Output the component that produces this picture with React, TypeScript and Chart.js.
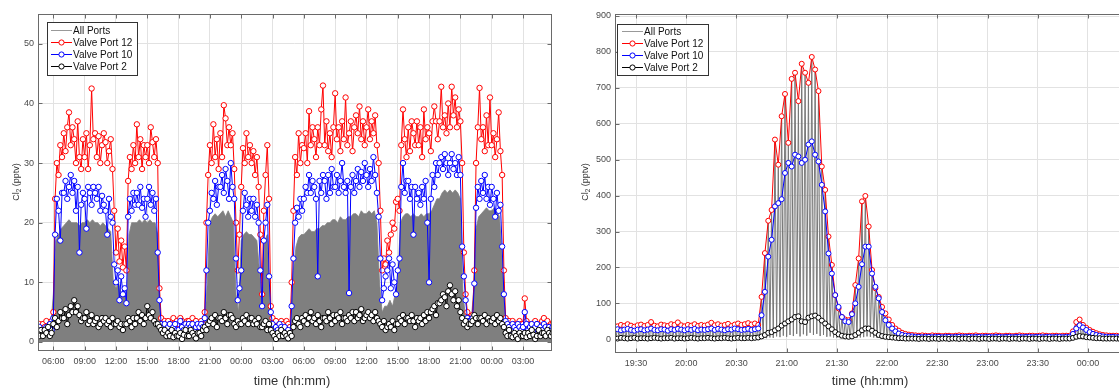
import React, { useEffect, useRef } from "react";
import { Chart, registerables } from "chart.js";

Chart.register(...registerables);

// ---------------- LEFT PANEL (10-min samples, hours since 00:00 of day 1) ----------------
const LEFT_T_START = 4.5;
const LEFT_T_STEP = 1 / 6;

const leftPort12 = [
  2.5, 3, 2, // 04:30-04:50
  3, 2.5, 3.5, 2.5, 3, 3.5, // 05
  5, 24, 30, 28, 33, 31, // 06
  35, 32, 36, 38.5, 33, 36, // 07
  34, 30, 37, 31, 29, 34, // 08
  31, 35, 29, 33, 42.5, 34, // 09
  35, 31, 34.5, 30, 33, 35, // 10
  33.5, 30, 32, 34, 29, 22, // 11
  15, 19, 13.5, 17, 12.5, 16, // 12
  12, 27, 31, 29, 33, 30, // 13
  36.5, 31, 34, 29, 33, 31, // 14
  33, 30, 36, 33.5, 31, 34, // 15
  30, 9, 4, 3, 3.5, 2.5, // 16
  3.5, 3, 2.5, 4, 3, 3.5, // 17
  3, 4, 3.5, 3, 2.5, 3.5, // 18
  3.5, 3, 4, 3, 3.5, 2.5, // 19
  3, 3.5, 3, 5, 20, 28, // 20
  33, 30, 36.5, 31, 34, 29, // 21
  35, 31, 39.7, 37.5, 33, 36, // 22
  33, 35, 29, 20, 12, 18, // 23
  26, 32.5, 30, 35, 31, 33, // 00
  30, 32, 28, 31, 26, 18, // 01
  8, 22, 28, 33, 24, 6, // 02
  4, 3, 3.5, 2.5, 3, 3.5, // 03
  3, 2.5, 3.5, 3, 2.5, 10, // 04
  22, 31, 28, 35, 30, 33, // 05
  32.5, 35, 30, 38.7, 33, 36, // 06
  34, 31, 36, 33, 39, 43, // 07
  33, 37, 32, 35, 31, 36, // 08
  41.7, 34, 36, 32, 37, 34, // 09
  41, 33, 35, 37, 32, 36, // 10
  38, 35, 39.5, 34, 37, 33, // 11
  36, 39, 34, 37, 35, 38, // 12
  33, 30, 22, 12, 14, 13, // 13
  17, 15, 18, 20, 19, 23.5, // 14
  24, 22, 33, 39, 34, 31, // 15
  36, 32, 37, 35, 33, 37, // 16
  33, 36, 31, 39, 34, 36, // 17
  35, 32, 37, 39.5, 37, 34, // 18
  37, 42.8, 36, 38, 35, 40, // 19
  36, 42.8, 38, 41, 36, 39, // 20
  37, 30, 15, 8, 5, 4, // 21
  4, 4.5, 12, 30, 36, 42.6, // 22
  34, 36, 32, 38, 33, 41, // 23
  33, 35, 31, 34, 38.5, 32, // 00
  28, 12, 4, 3, 3.5, 2.5, // 01
  3.5, 3, 2.5, 3, 3.5, 3, // 02
  3, 7.3, 3.5, 3, 2.5, 3, // 03
  2.5, 3.5, 3, 2.5, 3, 3.5, // 04
  4, 3, 3.5, 2.5, 3, 3, // 05
];

const leftPort10 = [
  2, 2.5, 2, // 04:30-04:50
  1.5, 2, 2.5, 2, 3, 2, // 05
  4, 18, 24, 22, 17, 25, // 06
  25, 27, 24, 26, 28, 25, // 07
  27, 22, 26, 15, 23, 25, // 08
  24, 19, 26, 25, 23, 26, // 09
  25, 24, 26, 22, 24.5, 23, // 10
  22, 18, 24, 21, 20, 13, // 11
  10, 12, 7, 11, 8, 9, // 12
  6.5, 21, 24, 22, 25, 23, // 13
  25, 23, 26, 22.5, 24, 21, // 14
  24, 26, 23, 25, 22, 24, // 15
  15, 7, 3, 2.5, 3, 2, // 16
  2.5, 3, 2, 2.5, 3, 2, // 17
  2, 3.5, 2.5, 2, 3, 2.5, // 18
  3, 2.5, 3, 2, 2.5, 3, // 19
  2.5, 3, 2.5, 4, 12, 20, // 20
  22, 25, 24, 27, 23, 26, // 21
  26, 28, 25, 29, 27, 24, // 22
  30, 26, 24, 14, 7, 9, // 23
  12, 22, 25, 23, 21, 24, // 00
  22, 24, 21, 23, 20, 12, // 01
  6, 17, 20, 23, 11, 5, // 02
  3, 2, 2.5, 2, 3, 2.5, // 03
  2, 2.5, 1, 2, 1, 6, // 04
  14, 20, 22.5, 21, 24, 22, // 05
  24, 26, 25, 28, 25, 27, // 06
  26, 24, 11, 27, 25, 28, // 07
  27, 24, 28, 25, 29, 26, // 08
  26, 28, 25, 27, 30, 26, // 09
  25, 27, 8.2, 26, 28, 25, // 10
  27, 29, 26, 28.5, 27, 30, // 11
  28, 26, 29, 27, 31, 28, // 12
  25, 21, 14, 7, 9, 11, // 13
  12, 14, 9, 13, 10, 8, // 14
  12, 14, 26, 30, 25, 27, // 15
  27, 24, 26, 18, 26, 24, // 16
  25, 23, 26, 24, 27, 20, // 17
  10, 24, 28, 26, 30, 28, // 18
  30, 31, 29, 31.5, 30, 28, // 19
  30, 31.5, 29, 30, 28, 31, // 20
  28, 16, 11, 7, 4, 3.5, // 21
  3.5, 4, 9.8, 22.5, 26, 24, // 22
  27, 25, 28, 24, 26, 23, // 23
  26, 24, 21, 25, 22, 23, // 00
  16, 8, 3.5, 3, 2.5, 2, // 01
  3, 2.5, 2, 3, 2.5, 2, // 02
  2.5, 5, 3, 2, 2.5, 3, // 03
  2, 2.5, 3, 2, 2.5, 2, // 04
  3, 2.5, 2, 2.5, 2, 2.5, // 05
];

const leftPort2 = [
  1.5, 1, 2, // 04:30-04:50
  1, 2, 1.5, 2.5, 1, 1.5, // 05
  3, 4, 2.5, 3.5, 5, 4, // 06
  4, 5.5, 3, 4.5, 6, 5, // 07
  7, 5, 6, 4.5, 3.5, 4, // 08
  4, 5, 3, 3.5, 4.5, 3, // 09
  3.5, 4, 2.5, 3, 4, 3.5, // 10
  4, 3, 3.5, 2.5, 4, 3, // 11
  3, 3.5, 2.5, 3, 2, 3, // 12
  3, 4, 3.5, 2.5, 4, 3, // 13
  4, 5, 3.5, 4.5, 3, 4, // 14
  6, 4.5, 4, 5, 3.5, 3, // 15
  3, 2.5, 2, 1.5, 2, 1, // 16
  1.5, 1, 2, 0.8, 1.5, 1, // 17
  1, 1.5, 0.5, 1.2, 2, 1, // 18
  1, 2, 1.5, 1, 0.6, 1.5, // 19
  1.5, 1, 2, 2.5, 2, 3, // 20
  3.5, 4, 3, 4.5, 2.5, 4, // 21
  4, 3.5, 5, 4, 3, 4.5, // 22
  4.5, 4, 3, 2.5, 3.5, 3, // 23
  3, 4, 3.5, 4.5, 3, 4, // 00
  4, 3, 3.5, 3, 4, 2.5, // 01
  2.5, 3, 3.5, 2, 3, 2, // 02
  1.5, 1, 0.5, 1.5, 1, 2, // 03
  1, 1.5, 1, 0.6, 1.5, 1, // 04
  2.5, 3.5, 4, 3, 2.5, 4, // 05
  3.5, 4.5, 3, 4, 5, 3.5, // 06
  4, 3, 4.5, 3.5, 2.5, 4, // 07
  4, 3.5, 5, 4, 3, 4.5, // 08
  3.5, 4.5, 4, 5, 3, 4, // 09
  4, 3.5, 4.5, 4, 5, 3.5, // 10
  5, 4, 4.5, 5.5, 3.5, 4, // 11
  4.5, 5, 4, 4.5, 3.5, 5, // 12
  4, 3.5, 3, 2.5, 3.5, 2, // 13
  2.5, 3, 2.5, 3.5, 2, 3, // 14
  3, 4, 3.5, 4.5, 3, 4, // 15
  4, 3.5, 4.5, 3.5, 2.5, 4, // 16
  3.5, 4, 3, 4.5, 3.5, 5, // 17
  4, 5, 5.5, 6, 4.5, 6.5, // 18
  6.5, 7, 8, 7.5, 6, 8.5, // 19
  9.5, 8, 7, 8.5, 6, 7, // 20
  5, 4, 3, 3.5, 2.5, 3, // 21
  3, 3.5, 4.5, 4, 3, 4, // 22
  4, 3.5, 4.5, 3, 4, 3.5, // 23
  3.5, 4, 3, 4.5, 3.5, 4, // 00
  3, 2.5, 1.5, 1, 2, 1, // 01
  0.8, 1.5, 1, 0.5, 1.5, 1, // 02
  1, 1.5, 0.8, 1.5, 1, 2, // 03
  1.2, 0.5, 1, 2, 1, 1.5, // 04
  1.5, 1, 2, 1.5, 1, 1.5, // 05
];

// upper envelope of the grey "All Ports" trace (15-min samples)
const LEFT_ALL_T_START = 4.5;
const LEFT_ALL_T_STEP = 0.25;
const leftAllPorts = [
  2, 2.5, // 04
  2.5, 2, 3, 2.5, // 05
  8, 17, 18, 19, // 06
  19.5, 20, 20.5, 20, // 07
  20, 20, 19.5, 20, // 08
  20, 20.5, 20, 20.5, // 09
  20, 20, 19.5, 20, // 10
  19.5, 19, 18.5, 10, // 11
  9, 10, 8, 9, // 12
  6, 18, 20, 20, // 13
  20, 20.5, 20, 20.5, // 14
  20, 20.5, 20, 20, // 15
  18, 4, 2.5, 2, // 16
  2.5, 2, 2.5, 2, // 17
  2, 2.5, 2, 2.5, // 18
  2.5, 2, 2.5, 2, // 19
  2, 2.5, 3, 10, // 20
  20, 21, 21.5, 21, // 21
  21.5, 22, 21, 22, // 22
  21, 20, 8, 5, // 23
  17, 18, 18.5, 18, // 00
  18, 17.5, 17, 12, // 01
  5, 17, 18, 6, // 02
  2.5, 2, 2, 2.5, // 03
  2, 2.5, 2, 3, // 04
  12, 16, 17.5, 18, // 05
  18, 18.5, 19, 18.5, // 06
  18.5, 19, 19, 19.5, // 07
  19.5, 20, 20, 20.5, // 08
  20.5, 20, 21, 20.5, // 09
  20.5, 21, 21, 21.5, // 10
  21.5, 21, 22, 21.5, // 11
  21.5, 22, 21.5, 22, // 12
  20, 10, 5, 6, // 13
  6, 7, 6, 8, // 14
  10, 20, 21, 21.5, // 15
  21.5, 21, 21.5, 21, // 16
  21, 21.5, 21, 21.5, // 17
  21.5, 22, 23, 24, // 18
  24, 25, 25.5, 25, // 19
  25.5, 25, 25.5, 25, // 20
  24, 8, 4, 3.5, // 21
  3, 8, 19, 21, // 22
  21.5, 22, 22.5, 22, // 23
  22, 22.5, 22, 21, // 00
  14, 4, 2.5, 2, // 01
  2, 2.5, 2, 2, // 02
  2.5, 3, 2, 2.5, // 03
  2, 2.5, 2, 2, // 04
  2.5, 2, 2.5, 2, // 05
];

const leftXTicks = [6, 9, 12, 15, 18, 21, 24, 27, 30, 33, 36, 39, 42, 45, 48, 51];
const leftYTicks = [0, 10, 20, 30, 40, 50];

// ---------------- RIGHT PANEL (2-min samples, minutes after 19:00) ----------------
const RIGHT_T_START = 17;
const RIGHT_T_STEP = 2;

const rightPort12 = [
  38, 36, 40, 37, 42, 38, 35, 39, 41, 37,
  40, 48, 38, 36, 41, 39, 37, 42, 40, 47,
  39, 36, 40, 38, 42, 37, 40, 38, 41, 46,
  39, 42, 38, 40, 43, 37, 41, 44, 40, 42,
  45, 41, 44, 40, 118, 240, 330, 360, 556, 486,
  621, 683, 547, 725, 742, 663, 767, 742, 714, 786,
  751, 691, 481, 416, 286, 207, 123, 86, 62, 55,
  53, 72, 151, 225, 384, 399, 314, 193, 142, 118,
  90, 72, 55, 40, 30, 24, 18, 15, 13, 12,
  11, 10, 11, 10, 9, 11, 10, 10, 9, 10,
  10, 9, 10, 11, 10, 9, 10, 10, 11, 9,
  10, 10, 9, 10, 11, 10, 9, 10, 10, 9,
  10, 11, 10, 9, 10, 10, 9, 10, 11, 10,
  9, 10, 10, 9, 10, 10, 10, 22, 48, 55,
  40, 32, 26, 21, 17, 14, 12, 11, 10, 10,
  10, 9, 10,
];

const rightPort10 = [
  26, 28, 25, 27, 29, 26, 24, 27, 28, 25,
  27, 30, 26, 25, 28, 27, 24, 28, 26, 29,
  27, 25, 28, 26, 29, 25, 27, 26, 28, 30,
  26, 29, 27, 25, 28, 27, 30, 28, 26, 27,
  29, 26, 28, 30, 67, 132, 230, 277, 370, 379,
  390, 463, 491, 481, 514, 509, 491, 500, 542, 551,
  514, 495, 430, 356, 239, 183, 123, 90, 62, 50,
  48, 70, 100, 146, 209, 258, 258, 183, 146, 114,
  76, 53, 40, 30, 22, 16, 12, 10, 9, 8,
  7, 7, 6, 7, 7, 6, 7, 7, 6, 7,
  7, 6, 7, 7, 6, 7, 7, 6, 7, 7,
  6, 7, 7, 6, 7, 7, 6, 7, 7, 6,
  7, 7, 6, 7, 7, 6, 7, 7, 6, 7,
  7, 6, 7, 7, 6, 7, 7, 15, 30, 39,
  33, 26, 20, 15, 12, 10, 8, 7, 7, 7,
  6, 7, 7,
];

const rightPort2 = [
  3, 2, 4, 3, 2, 3, 4, 2, 3, 3,
  2, 3, 4, 3, 2, 3, 3, 4, 2, 3,
  3, 2, 3, 4, 3, 2, 3, 3, 4, 3,
  2, 3, 3, 4, 3, 2, 3, 4, 3, 3,
  4, 3, 4, 5, 8, 12, 18, 20, 25, 30,
  38, 44, 50, 55, 62, 64, 50, 48, 60, 64,
  66, 60, 52, 44, 36, 28, 20, 14, 10, 8,
  7, 8, 12, 18, 25, 30, 30, 24, 18, 12,
  9, 7, 6, 5, 4, 3, 3, 2, 2, 2,
  2, 1, 2, 2, 1, 2, 2, 1, 2, 2,
  1, 2, 2, 1, 2, 2, 1, 2, 2, 1,
  2, 2, 1, 2, 2, 1, 2, 2, 1, 2,
  2, 1, 2, 2, 1, 2, 2, 1, 2, 2,
  1, 2, 2, 1, 2, 2, 2, 4, 7, 9,
  8, 6, 5, 4, 3, 3, 2, 2, 2, 2,
  2, 1, 2,
];

// lowest reading of the other ports (bottom of the grey "All Ports" trace)
const rightLowestPort = [
  1, 0, 1, 1, 0, 1, 1, 0, 1, 1,
  0, 1, 1, 0, 1, 1, 0, 1, 1, 0,
  1, 1, 0, 1, 1, 0, 1, 1, 0, 1,
  1, 0, 1, 1, 0, 1, 1, 0, 1, 1,
  0, 1, 1, 0, 2, 3, 5, 4, 8, 6,
  10, 7, 12, 9, 15, 8, 14, 10, 18, 12,
  15, 9, 12, 7, 8, 5, 4, 3, 2, 2,
  2, 3, 4, 5, 6, 8, 7, 5, 4, 3,
  2, 2, 1, 1, 1, 0, 1, 0, 1, 0,
  1, 0, 1, 0, 1, 1, 0, 1, 0, 1,
  0, 1, 1, 0, 1, 0, 1, 1, 0, 1,
  1, 0, 1, 1, 0, 1, 0, 1, 1, 0,
  1, 1, 0, 1, 0, 1, 1, 0, 1, 0,
  1, 0, 1, 1, 0, 1, 0, 1, 2, 2,
  1, 1, 0, 1, 1, 0, 1, 0, 1, 1,
  0, 1, 0,
];

const rightXTicks = [30, 60, 90, 120, 150, 180, 210, 240, 270, 300, 330];
const rightYTicks = [0, 100, 200, 300, 400, 500, 600, 700, 800, 900];

const legendLabels = ["All Ports", "Valve Port 12", "Valve Port 10", "Valve Port 2"];

// ---------------- styling ----------------
const FONT = '"Liberation Sans", Arial, Helvetica, sans-serif';
const C_ALL = "#7f7f7f";
const C_12 = "#ff0000";
const C_10 = "#0000ff";
const C_2 = "#000000";
const GRID = "#e2e2e2";
const FRAME = "#6a6a6a";
const TICK_TXT = "#4a4a4a";

type Decor = {
  legend: { x: number; y: number; w: number; h: number; rows: number[]; l1: number; l2: number; tx: number };
  yTitle: { x: number; y: number };
  xTitle: { x: number; y: number };
  xTicks: number[];
  yTicks: number[];
};

function decorPlugin(d: Decor) {
  return {
    id: "decor",
    afterDraw(chart: any) {
      const ctx: CanvasRenderingContext2D = chart.ctx;
      const a = chart.chartArea;
      const xs = chart.scales.x;
      const ys = chart.scales.y;
      ctx.save();
      const L = Math.round(a.left) + 0.5;
      const T = Math.round(a.top) + 0.5;
      const R = Math.round(a.right) + 0.5;
      const B = Math.round(a.bottom) + 0.5;
      ctx.strokeStyle = FRAME;
      ctx.lineWidth = 1;
      ctx.strokeRect(L, T, R - L, B - T);
      ctx.beginPath();
      d.xTicks.forEach((v) => {
        const px = Math.round(xs.getPixelForValue(v)) + 0.5;
        if (px < a.left || px > a.right) return;
        ctx.moveTo(px, B); ctx.lineTo(px, B - 4);
        ctx.moveTo(px, T); ctx.lineTo(px, T + 4);
      });
      d.yTicks.forEach((v) => {
        const py = Math.round(ys.getPixelForValue(v)) + 0.5;
        ctx.moveTo(L, py); ctx.lineTo(L + 4, py);
        ctx.moveTo(R, py); ctx.lineTo(R - 4, py);
      });
      ctx.stroke();

      // legend
      const lg = d.legend;
      ctx.fillStyle = "#ffffff";
      ctx.fillRect(lg.x, lg.y, lg.w, lg.h);
      ctx.strokeStyle = "#333333";
      ctx.strokeRect(lg.x + 0.5, lg.y + 0.5, lg.w, lg.h);
      const colors = [C_ALL, C_12, C_10, C_2];
      legendLabels.forEach((lab, k) => {
        const cy = lg.rows[k] + 0.5;
        ctx.strokeStyle = colors[k];
        ctx.lineWidth = k === 0 ? 0.8 : 1;
        ctx.beginPath();
        ctx.moveTo(lg.l1, cy);
        ctx.lineTo(lg.l2, cy);
        ctx.stroke();
        if (k > 0) {
          ctx.beginPath();
          ctx.arc((lg.l1 + lg.l2) / 2, cy, 2.6, 0, Math.PI * 2);
          ctx.fillStyle = "#ffffff";
          ctx.fill();
          ctx.stroke();
        }
        ctx.fillStyle = "#111111";
        ctx.font = `10px ${FONT}`;
        ctx.textAlign = "left";
        ctx.textBaseline = "middle";
        ctx.fillText(lab, lg.tx, cy + 0.5);
      });

      // y title: Cl2 (pptv) with subscript
      ctx.save();
      ctx.translate(d.yTitle.x, d.yTitle.y);
      ctx.rotate(-Math.PI / 2);
      ctx.fillStyle = "#333333";
      ctx.textBaseline = "middle";
      ctx.textAlign = "left";
      ctx.font = `9px ${FONT}`;
      const w1 = ctx.measureText("Cl").width;
      const w3 = ctx.measureText(" (pptv)").width;
      ctx.font = `6.5px ${FONT}`;
      const w2 = ctx.measureText("2").width;
      let sx = -(w1 + w2 + w3) / 2;
      ctx.font = `9px ${FONT}`;
      ctx.fillText("Cl", sx, 0);
      sx += w1;
      ctx.font = `6.5px ${FONT}`;
      ctx.fillText("2", sx, 2.5);
      sx += w2;
      ctx.font = `9px ${FONT}`;
      ctx.fillText(" (pptv)", sx, 0);
      ctx.restore();

      // x title
      ctx.fillStyle = "#333333";
      ctx.font = `13px ${FONT}`;
      ctx.textAlign = "center";
      ctx.textBaseline = "middle";
      ctx.fillText("time (hh:mm)", d.xTitle.x, d.xTitle.y);
      ctx.restore();
    },
  };
}

function portDataset(label: string, xs: number[], ys: number[], color: string, order: number, radius: number) {
  return {
    label,
    data: ys.map((v, i) => ({ x: xs[i], y: v })),
    borderColor: color,
    backgroundColor: "#ffffff",
    borderWidth: 1,
    pointRadius: radius,
    pointBorderWidth: 1,
    pointBorderColor: color,
    pointBackgroundColor: "#ffffff",
    pointStyle: "circle",
    tension: 0,
    fill: false,
    order,
  };
}

const pad2 = (n: number) => String(n).padStart(2, "0");

function makeScales(opts: {
  xmin: number; xmax: number; ymin: number; ymax: number;
  xTicks: number[]; yTicks: number[]; fmt: (v: number) => string;
  yWidth: number; xHeight: number;
}) {
  return {
    x: {
      type: "linear" as const,
      min: opts.xmin,
      max: opts.xmax,
      afterBuildTicks: (s: any) => { s.ticks = opts.xTicks.map((v) => ({ value: v })); },
      afterFit: (s: any) => { s.height = opts.xHeight; },
      ticks: {
        callback: (v: any) => opts.fmt(Number(v)),
        font: { family: FONT, size: 9 },
        color: TICK_TXT,
        padding: 6,
        maxRotation: 0,
        autoSkip: false,
      },
      grid: { color: GRID, drawTicks: false, lineWidth: 1 },
      border: { display: false },
    },
    y: {
      type: "linear" as const,
      min: opts.ymin,
      max: opts.ymax,
      afterBuildTicks: (s: any) => { s.ticks = opts.yTicks.map((v) => ({ value: v })); },
      afterFit: (s: any) => { s.width = opts.yWidth; },
      ticks: {
        font: { family: FONT, size: 9 },
        color: TICK_TXT,
        padding: 4,
      },
      grid: { color: GRID, drawTicks: false, lineWidth: 1 },
      border: { display: false },
    },
  };
}

export default function App() {
  const leftRef = useRef<HTMLCanvasElement>(null);
  const rightRef = useRef<HTMLCanvasElement>(null);

  useEffect(() => {
    const lx = leftPort12.map((_, i) => LEFT_T_START + i * LEFT_T_STEP);
    const lAllX = leftAllPorts.map((_, i) => LEFT_ALL_T_START + i * LEFT_ALL_T_STEP);
    const leftChart = new Chart(leftRef.current as HTMLCanvasElement, {
      type: "line",
      data: {
        datasets: [
          portDataset("Valve Port 2", lx, leftPort2, C_2, 0, 2.7),
          portDataset("Valve Port 10", lx, leftPort10, C_10, 1, 2.7),
          portDataset("Valve Port 12", lx, leftPort12, C_12, 2, 2.7),
          {
            label: "All Ports",
            data: leftAllPorts.map((v, i) => ({ x: lAllX[i], y: v })),
            borderColor: C_ALL,
            backgroundColor: C_ALL,
            borderWidth: 0.8,
            pointRadius: 0,
            fill: "origin",
            tension: 0,
            order: 3,
          } as any,
        ],
      },
      options: {
        animation: false,
        responsive: false,
        events: [],
        layout: { padding: { top: 14, right: 9, left: 0, bottom: 0 } },
        plugins: { legend: { display: false }, tooltip: { enabled: false } },
        scales: makeScales({
          xmin: 4.53, xmax: 53.68, ymin: -1.35, ymax: 55,
          xTicks: leftXTicks, yTicks: leftYTicks,
          fmt: (v) => `${pad2(((v % 24) + 24) % 24)}:00`,
          yWidth: 38, xHeight: 39,
        }) as any,
      },
      plugins: [decorPlugin({
        legend: { x: 47, y: 22, w: 90, h: 53, rows: [30, 42, 54, 66], l1: 51, l2: 72, tx: 73 },
        yTitle: { x: 17, y: 182 },
        xTitle: { x: 292, y: 381 },
        xTicks: leftXTicks, yTicks: leftYTicks,
      })],
    });

    const rx = rightPort12.map((_, i) => RIGHT_T_START + i * RIGHT_T_STEP);
    const allPortsTrace: { x: number; y: number }[] = [];
    rightPort12.forEach((hi, i) => {
      allPortsTrace.push({ x: rx[i], y: hi });
      allPortsTrace.push({ x: rx[i] + 1, y: rightLowestPort[i] });
    });
    const rightChart = new Chart(rightRef.current as HTMLCanvasElement, {
      type: "line",
      data: {
        datasets: [
          portDataset("Valve Port 2", rx, rightPort2, C_2, 0, 2.5),
          portDataset("Valve Port 10", rx, rightPort10, C_10, 1, 2.5),
          portDataset("Valve Port 12", rx, rightPort12, C_12, 2, 2.5),
          {
            label: "All Ports",
            data: allPortsTrace,
            borderColor: "#777777",
            borderWidth: 1,
            pointRadius: 0,
            fill: false,
            tension: 0,
            order: 3,
          } as any,
        ],
      },
      options: {
        animation: false,
        responsive: false,
        events: [],
        layout: { padding: { top: 14, right: 10, left: 0, bottom: 0 } },
        plugins: { legend: { display: false }, tooltip: { enabled: false } },
        scales: makeScales({
          xmin: 17.45, xmax: 337.05, ymin: -35.4, ymax: 905.6,
          xTicks: rightXTicks, yTicks: rightYTicks,
          fmt: (v) => {
            const tot = 19 * 60 + Math.round(v);
            return `${pad2(Math.floor(tot / 60) % 24)}:${pad2(tot % 60)}`;
          },
          yWidth: 55, xHeight: 37,
        }) as any,
      },
      plugins: [decorPlugin({
        legend: { x: 57, y: 24, w: 91, h: 51, rows: [31, 43, 55, 67], l1: 62, l2: 83, tx: 84 },
        yTitle: { x: 26, y: 182 },
        xTitle: { x: 310, y: 381 },
        xTicks: rightXTicks, yTicks: rightYTicks,
      })],
    });

    return () => {
      leftChart.destroy();
      rightChart.destroy();
    };
  }, []);

  return (
    <div style={{ position: "fixed", left: 0, top: 0, width: 1119, height: 389, overflow: "hidden", background: "#ffffff" }}>
      <canvas ref={leftRef} width={560} height={389} style={{ position: "absolute", left: 0, top: 0 }} />
      <canvas ref={rightRef} width={600} height={389} style={{ position: "absolute", left: 560, top: 0 }} />
    </div>
  );
}
